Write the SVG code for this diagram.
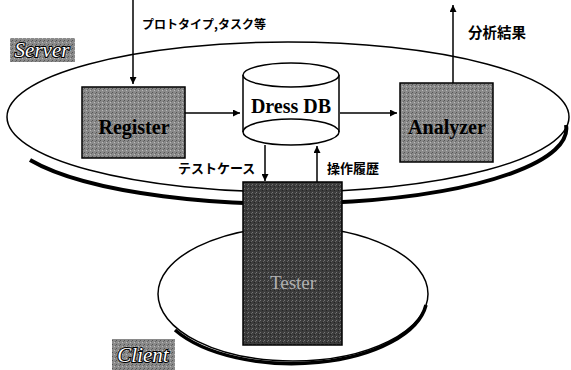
<svg xmlns="http://www.w3.org/2000/svg" width="571" height="370" viewBox="0 0 571 370">
<defs>
<marker id="ah" viewBox="0 0 10 10" refX="10" refY="5" markerWidth="7" markerHeight="7" markerUnits="userSpaceOnUse" orient="auto">
<path d="M0,0 L10,5 L0,10 z" fill="#000"/>
</marker>
<pattern id="tex" width="4" height="4" patternUnits="userSpaceOnUse">
<rect width="4" height="4" fill="#8a8a8a"/>
<rect x="0" y="0" width="1" height="1" fill="#555"/>
<rect x="2" y="2" width="1" height="1" fill="#bbb"/>
<rect x="3" y="1" width="1" height="1" fill="#666"/>
</pattern>
<pattern id="texd" width="4" height="4" patternUnits="userSpaceOnUse">
<rect width="4" height="4" fill="#3c3c3c"/>
<rect x="0" y="0" width="1" height="1" fill="#777"/>
<rect x="2" y="2" width="1" height="1" fill="#222"/>
<rect x="3" y="1" width="1" height="1" fill="#666"/>
</pattern>
</defs>
<style>
.line{fill:none;stroke:#000;stroke-width:1.5}
.jp{font-family:"Noto Sans CJK JP","Noto Sans",sans-serif;font-weight:bold;font-size:13px;fill:#000}
.nm{font-family:"Liberation Serif",serif;font-weight:bold;font-size:20px;text-anchor:middle}
.lab{font-family:"Liberation Serif",serif;font-style:italic;font-size:21px;fill:#fff;stroke:#000;stroke-width:2;paint-order:stroke;text-anchor:middle}
.box{stroke:#000;stroke-width:1.5}
</style>
<rect width="571" height="370" fill="#fff"/>
<g id="server">
<ellipse cx="288" cy="117" rx="281" ry="75" fill="none" stroke="#000" stroke-width="1.5"/>
<path d="M30,160 A281,75 0 0 0 566,125" fill="none" stroke="#000" stroke-width="4"/>
<rect x="10" y="38" width="65" height="24" fill="url(#tex)"/>
<text class="lab" x="42" y="57">Server</text>
</g>
<g id="client">
<ellipse cx="293" cy="294" rx="135" ry="67" fill="none" stroke="#000" stroke-width="1.5"/>
<path d="M175,330 A135,67 0 0 0 426,305" fill="none" stroke="#000" stroke-width="3.5"/>
<rect x="112" y="339" width="63" height="31" fill="url(#tex)"/>
<text class="lab" x="143" y="362">Client</text>
</g>
<g id="register">
<rect class="box" x="82" y="87" width="103" height="71" fill="url(#tex)"/>
<text class="nm" x="134" y="134" fill="#000">Register</text>
</g>
<g id="dressdb">
<path d="M243,75 L243,132 A48,13 0 0 0 339,132 L339,75" fill="#fff" stroke="#000" stroke-width="1.5"/>
<ellipse cx="291" cy="75" rx="48" ry="12" fill="#fff" stroke="#000" stroke-width="1.5"/>
<path d="M243,132 A48,13 0 0 1 339,132" fill="none" stroke="#000" stroke-width="1.5"/>
<text class="nm" x="291" y="113" fill="#000">Dress DB</text>
</g>
<g id="analyzer">
<rect class="box" x="400" y="83" width="93" height="79" fill="url(#tex)"/>
<text class="nm" x="447" y="134" fill="#000">Analyzer</text>
</g>
<g id="tester">
<rect class="box" x="243" y="182" width="99" height="163" fill="url(#texd)"/>
<text class="nm" x="293" y="289" style="fill:#b0b0b0;font-weight:normal;font-size:19px">Tester</text>
</g>
<g id="connectors">
<line class="line" x1="133" y1="0" x2="133" y2="84" marker-end="url(#ah)"/>
<line class="line" x1="185" y1="113" x2="240" y2="113" marker-end="url(#ah)"/>
<line class="line" x1="340" y1="113" x2="397" y2="113" marker-end="url(#ah)"/>
<line class="line" x1="453" y1="83" x2="453" y2="5" marker-end="url(#ah)"/>
<line class="line" x1="265" y1="145" x2="265" y2="181" marker-end="url(#ah)"/>
<line class="line" x1="317" y1="182" x2="317" y2="146" marker-end="url(#ah)"/>
<text class="jp" x="142" y="29" style="font-size:12px">プロトタイプ,タスク等</text>
<text class="jp" x="468" y="38" style="font-size:14.5px">分析結果</text>
<text class="jp" x="178" y="173">テストケース</text>
<text class="jp" x="327" y="173">操作履歴</text>
</g>
</svg>
